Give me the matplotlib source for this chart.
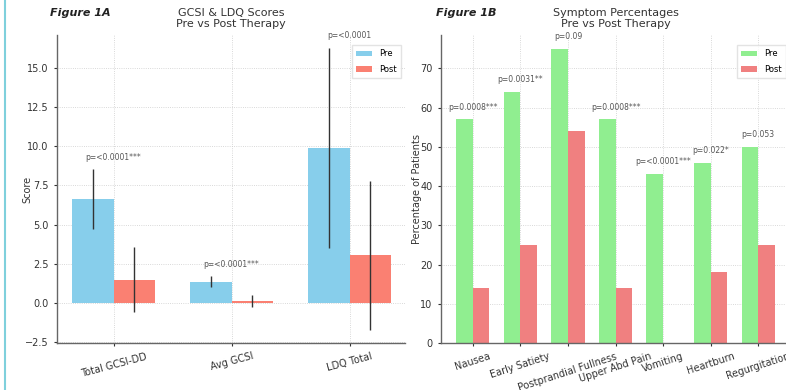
import numpy as np
import matplotlib as mpl
mpl.use('Agg')
from matplotlib import pyplot as plt
from matplotlib.lines import Line2D

#------------------- Data ----------------------
score_labels = ['Total GCSI-DD', 'Avg GCSI', 'LDQ Total']
score_pre = [6.65, 1.35, 9.9]
score_pre_err = [1.9, 0.35, 6.4]
score_post = [1.5, 0.15, 3.05]
score_post_err = [2.05, 0.38, 4.75]
score_p = ['p=<0.0001***', 'p=<0.0001***', 'p=<0.0001']

symptoms = ['Nausea', 'Early Satiety', 'Postprandial Fullness', 'Upper Abd Pain',
            'Vomiting', 'Heartburn', 'Regurgitation']
sym_pre = [57, 64, 75, 57, 43, 46, 50]
sym_post = [14, 25, 54, 14, 0, 18, 25]
sym_p = ['p=0.0008***', 'p=0.0031**', 'p=0.09', 'p=0.0008***',
         'p=<0.0001***', 'p=0.022*', 'p=0.053']

#------------------- Style ---------------------
plt.rcParams['font.family'] = 'DejaVu Sans'
tick_fs = 7
spine_c = '#666666'

def style_axes(ax):
    for s in ['top', 'right']:
        ax.spines[s].set_visible(False)
    for s in ['left', 'bottom']:
        ax.spines[s].set_color(spine_c)
        ax.spines[s].set_linewidth(1.0)
    ax.tick_params(colors='#333333', labelsize=tick_fs, length=2.5, width=0.8)
    ax.grid(True, linestyle=':', linewidth=0.6, color='#cccccc')
    ax.set_axisbelow(True)

fig = plt.figure(figsize=(7.86, 3.90), dpi=100)
w = 0.35

#------------------- Figure 1A -----------------
ax1 = fig.add_axes([57/786, 1-343/390, (405-57)/786, (343-35)/390])
x = np.arange(len(score_labels))
ax1.bar(x - w/2, score_pre, w, yerr=score_pre_err, color='skyblue',
        ecolor='#333333', error_kw=dict(lw=1.0), label='Pre')
ax1.bar(x + w/2, score_post, w, yerr=score_post_err, color='salmon',
        ecolor='#333333', error_kw=dict(lw=1.0), label='Post')
for i in range(len(x)):
    top = max(score_pre[i] + score_pre_err[i], score_post[i] + score_post_err[i])
    ax1.text(x[i], top + 0.45, score_p[i], ha='center', va='bottom',
             fontsize=5.5, color='#555555')
ax1.set_xticks(x)
ax1.set_xticklabels(score_labels, rotation=15, ha='center')
ax1.set_xlim(-0.48, 2.47)
ax1.set_ylim(-2.55, 17.1)
ax1.set_yticks([-2.5, 0, 2.5, 5, 7.5, 10, 12.5, 15])
ax1.set_ylabel('Score', fontsize=7, color='#333333', labelpad=-5)
ax1.set_title('GCSI & LDQ Scores\nPre vs Post Therapy', fontsize=8, color='#333333',
              pad=6, linespacing=1.1)
style_axes(ax1)
ax1.legend(loc='upper right', fontsize=6, frameon=True, edgecolor='#dddddd',
           handlelength=2.0, borderpad=0.5, labelspacing=0.8, fancybox=False,
           bbox_to_anchor=(1.0, 0.98))

#------------------- Figure 1B -----------------
ax2 = fig.add_axes([441/786, 1-343/390, (790-441)/786, (343-35)/390])
x2 = np.arange(len(symptoms))
ax2.bar(x2 - w/2, sym_pre, w, color='lightgreen', label='Pre')
ax2.bar(x2 + w/2, sym_post, w, color='lightcoral', label='Post')
for i in range(len(x2)):
    top = max(sym_pre[i], sym_post[i])
    ax2.text(x2[i], top + 2, sym_p[i], ha='center', va='bottom',
             fontsize=5.5, color='#555555')
ax2.set_xticks(x2)
ax2.set_xticklabels(symptoms, rotation=18, ha='center')
ax2.set_xlim(-0.67, 6.67)
ax2.set_ylim(0, 78.5)
ax2.set_yticks([0, 10, 20, 30, 40, 50, 60, 70])
ax2.set_ylabel('Percentage of Patients', fontsize=7, color='#333333', labelpad=-1)
ax2.set_title('Symptom Percentages\nPre vs Post Therapy', fontsize=8, color='#333333',
              pad=6, linespacing=1.1)
style_axes(ax2)
ax2.legend(loc='upper right', fontsize=6, frameon=True, edgecolor='#dddddd',
           handlelength=2.0, borderpad=0.5, labelspacing=0.8, fancybox=False,
           bbox_to_anchor=(1.0, 0.98))

#------------------- Labels / border -----------
fig.text(50/786, 1-13/390, 'Figure 1A', fontsize=8, fontstyle='italic',
         fontweight='bold', color='#222222', va='center')
fig.text(436/786, 1-13/390, 'Figure 1B', fontsize=8, fontstyle='italic',
         fontweight='bold', color='#222222', va='center')
fig.add_artist(Line2D([5/786, 5/786], [0, 1], color='#7fd0dc', lw=1.5,
                      transform=fig.transFigure))

plt.savefig('out.png', dpi=100)
